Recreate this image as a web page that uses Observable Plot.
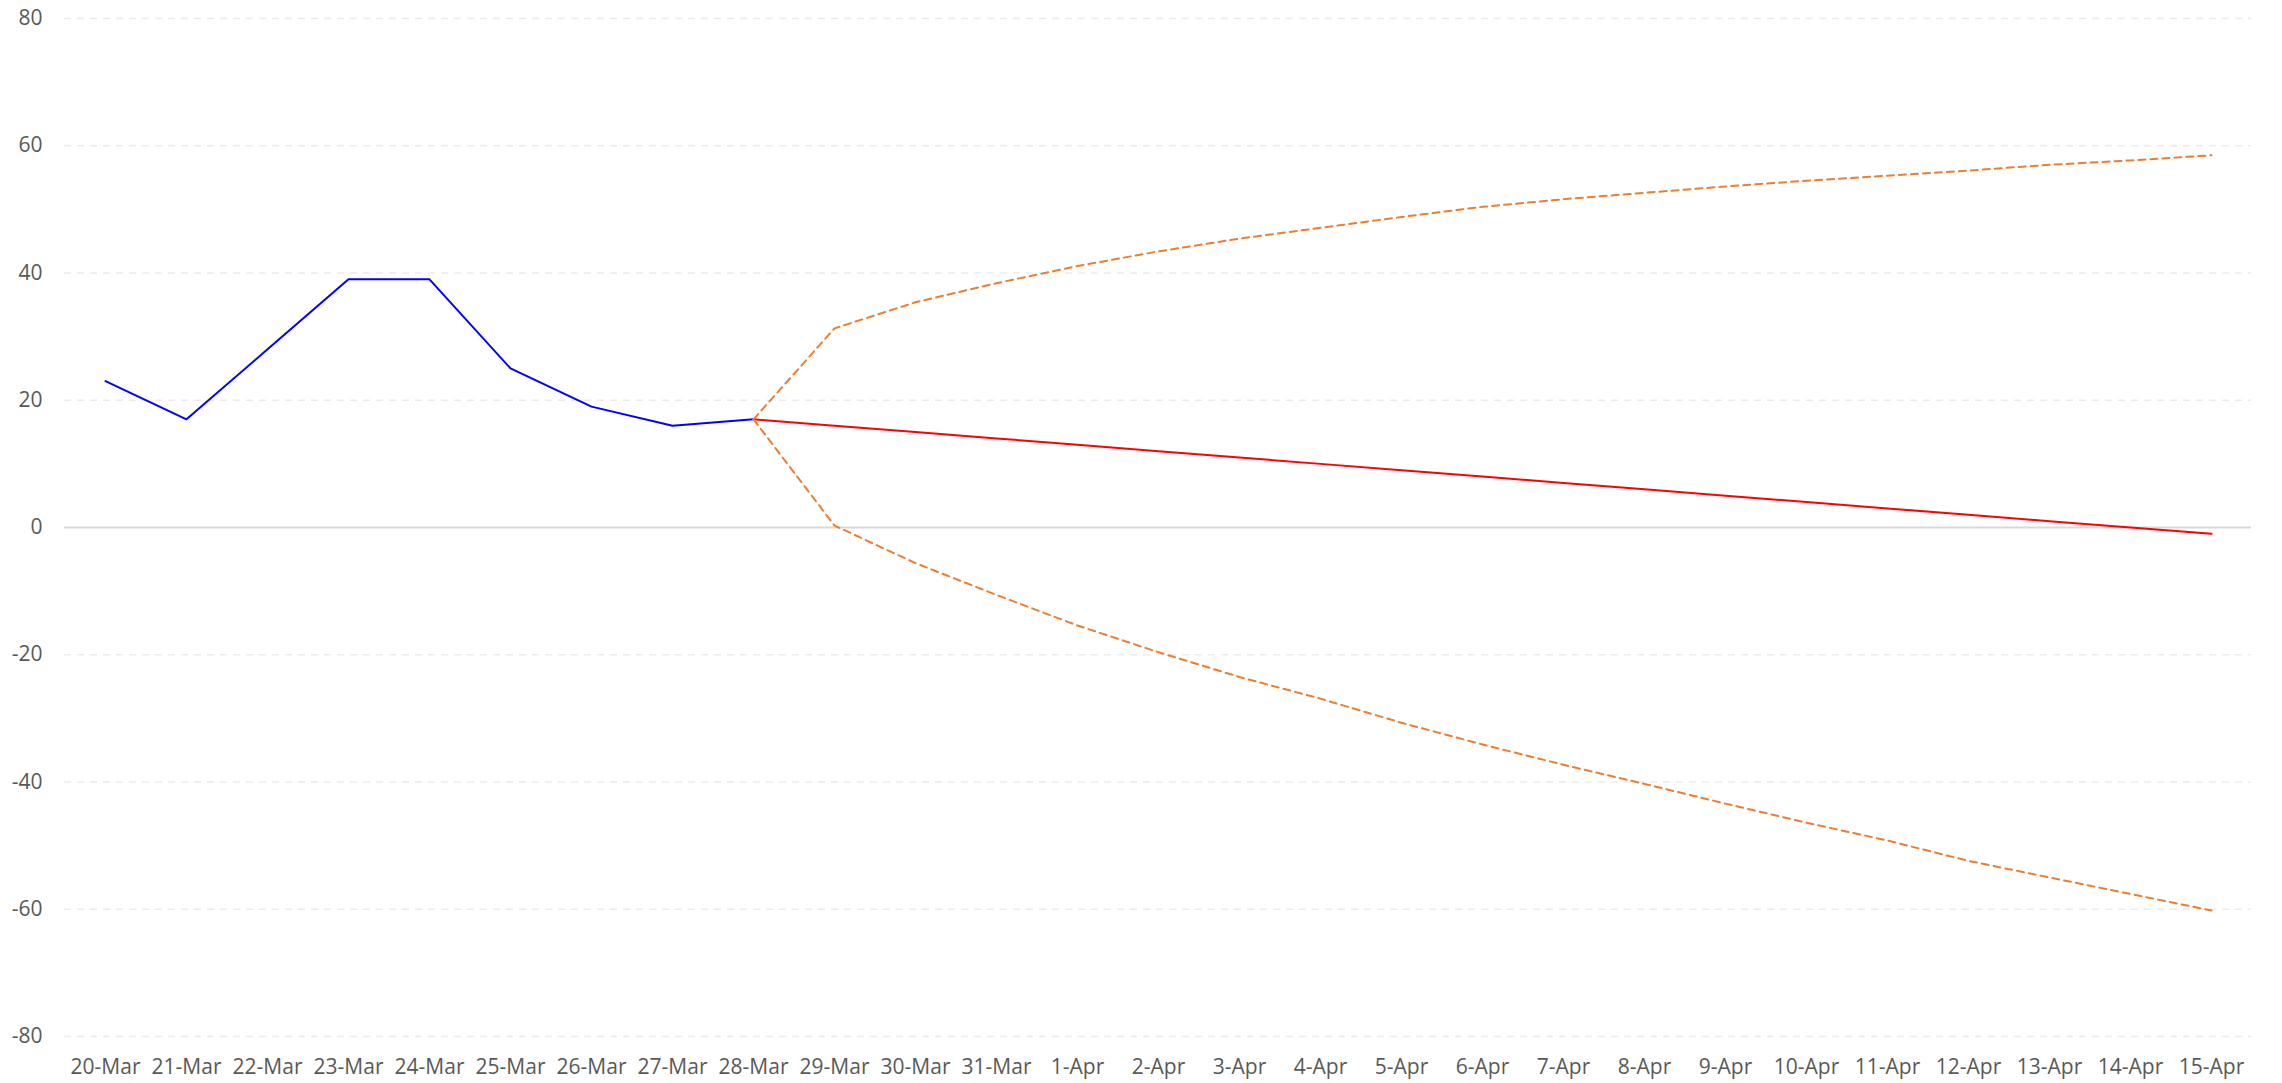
<!DOCTYPE html>
<html>
<head>
<meta charset="utf-8">
<script src="https://cdn.jsdelivr.net/npm/d3@7"></script>
<script src="https://cdn.jsdelivr.net/npm/@observablehq/plot@0.6"></script>
<style>
  html, body { margin: 0; padding: 0; background: #ffffff; }
  #chart svg { display: block; }
</style>
</head>
<body>
<div id="chart"></div>
<script>
// Category labels (x axis)
const dates = ["20-Mar","21-Mar","22-Mar","23-Mar","24-Mar","25-Mar","26-Mar","27-Mar","28-Mar",
  "29-Mar","30-Mar","31-Mar","1-Apr","2-Apr","3-Apr","4-Apr","5-Apr","6-Apr","7-Apr","8-Apr",
  "9-Apr","10-Apr","11-Apr","12-Apr","13-Apr","14-Apr","15-Apr"];

// Observed series (20-Mar .. 28-Mar)
const actualDates = dates.slice(0, 9);
const actualValues = [23, 17, 28, 39, 39, 25, 19, 16, 17];

// Forecast series (28-Mar .. 15-Apr)
const forecastDates = dates.slice(8);
const forecastValues = [17, 16, 15, 14, 13, 12, 11, 10, 9, 8, 7, 6, 5, 4, 3, 2, 1, 0, -1];
const upperValues = [17, 31.3, 35.4, 38.4, 41.1, 43.4, 45.4, 47.1, 48.8, 50.4, 51.6, 52.6, 53.6, 54.5, 55.3, 56.1, 57.0, 57.7, 58.5];
const lowerValues = [17, 0.3, -5.6, -10.6, -15.4, -19.6, -23.5, -26.9, -30.7, -34.1, -37.3, -40.3, -43.4, -46.4, -49.2, -52.4, -55.0, -57.6, -60.2];

// Y ticks
const yTicks = [-80, -60, -40, -20, 0, 20, 40, 60, 80];

const actual = actualDates.map((d, i) => ({date: d, value: actualValues[i]}));
const forecast = forecastDates.map((d, i) => ({date: d, value: forecastValues[i]}));
const upper = forecastDates.map((d, i) => ({date: d, value: upperValues[i]}));
const lower = forecastDates.map((d, i) => ({date: d, value: lowerValues[i]}));

const chart = Plot.plot({
  width: 2282,
  height: 1083,
  marginLeft: 64,
  marginRight: 31,
  marginTop: 18,
  marginBottom: 47,
  style: {fontFamily: "'Open Sans', sans-serif", fontSize: "21px", color: "#595959", background: "#ffffff"},
  x: {type: "point", domain: dates, padding: 0.5, label: null},
  y: {domain: [-80, 80], label: null},
  marks: [
    Plot.ruleY(yTicks.filter(t => t !== 0), {stroke: "#ebebeb", strokeWidth: 1.5, strokeDasharray: "7,6"}),
    Plot.ruleY([0], {stroke: "#d9d9d9", strokeWidth: 2}),
    Plot.axisY({ticks: yTicks, tickSize: 0, tickPadding: 22, tickFormat: d => String(d), label: null}),
    Plot.axisX({tickSize: 0, tickPadding: 23, label: null}),
    Plot.line(actual, {x: "date", y: "value", stroke: "#0000ff", strokeWidth: 2}),
    Plot.line(forecast, {x: "date", y: "value", stroke: "#ff0000", strokeWidth: 2}),
    Plot.line(upper, {x: "date", y: "value", stroke: "#ed7d31", strokeWidth: 2, strokeDasharray: "7,5"}),
    Plot.line(lower, {x: "date", y: "value", stroke: "#ed7d31", strokeWidth: 2, strokeDasharray: "7,5"})
  ]
});
document.getElementById("chart").appendChild(chart);
</script>
</body>
</html>
